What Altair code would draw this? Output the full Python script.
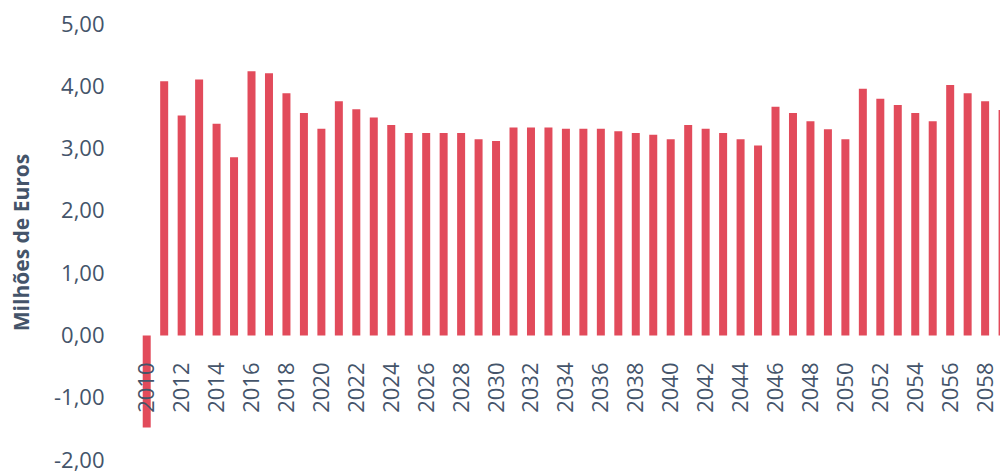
import altair as alt
import pandas as pd

years = list(range(2010, 2060))
values = [
    -1.48, 4.08, 3.53, 4.11, 3.40, 2.86, 4.24, 4.21, 3.89, 3.57,
    3.32, 3.76, 3.63, 3.50, 3.38, 3.25, 3.25, 3.25, 3.25, 3.15,
    3.12, 3.34, 3.34, 3.34, 3.32, 3.32, 3.32, 3.28, 3.25, 3.22,
    3.15, 3.38, 3.32, 3.25, 3.15, 3.05, 3.67, 3.57, 3.44, 3.31,
    3.15, 3.96, 3.80, 3.70, 3.57, 3.44, 4.02, 3.89, 3.76, 3.62,
]
x_ticks = list(range(2010, 2059, 2))
y_ticks = [-2, -1, 0, 1, 2, 3, 4, 5]

df = pd.DataFrame({"ano": years, "valor": values})

TEXT = "#44546A"
BAR = "#E24B5B"
FONT = "Open Sans"

chart = (
    alt.Chart(df)
    .mark_bar(color=BAR, size=8, clip=True)
    .encode(
        x=alt.X(
            "ano:Q",
            scale=alt.Scale(domain=[2008.585, 2058.566], nice=False, zero=False),
            axis=alt.Axis(
                values=x_ticks,
                format="d",
                labelAngle=-90,
                labelAlign="right",
                labelBaseline="middle",
                labelPadding=26,
                offset=-124,
                domain=False,
                ticks=False,
                grid=False,
                labelFont=FONT,
                labelFontSize=22,
                labelColor=TEXT,
                labelFlush=False,
                labelOverlap=False,
                title=None,
                zindex=1,
            ),
        ),
        y=alt.Y(
            "valor:Q",
            scale=alt.Scale(domain=[-2, 5], nice=False),
            axis=alt.Axis(
                values=y_ticks,
                labelExpr="replace(replace(format(datum.value, '.2f'), '.', ','), '\u2212', '-')",
                domain=False,
                ticks=False,
                grid=False,
                labelFont=FONT,
                labelFontSize=22,
                labelColor=TEXT,
                labelPadding=13,
                labelFlush=False,
                labelOverlap=False,
                title="Milhões de Euros",
                titleFont=FONT,
                titleFontSize=21,
                titleFontWeight="bold",
                titleColor=TEXT,
                titleX=-95,
                titleY=218,
                titleAngle=270,
                titleAlign="center",
                titleBaseline="middle",
            ),
        ),
    )
    .properties(
        width=883,
        height=436,
        background="white",
        padding={"left": 109, "top": 16, "right": 0, "bottom": 12},
        autosize=alt.AutoSizeParams(type="none"),
    )
    .configure_view(strokeWidth=0, stroke="transparent")
)

chart.save("out.html", embed_options={"renderer": "svg", "actions": False})
